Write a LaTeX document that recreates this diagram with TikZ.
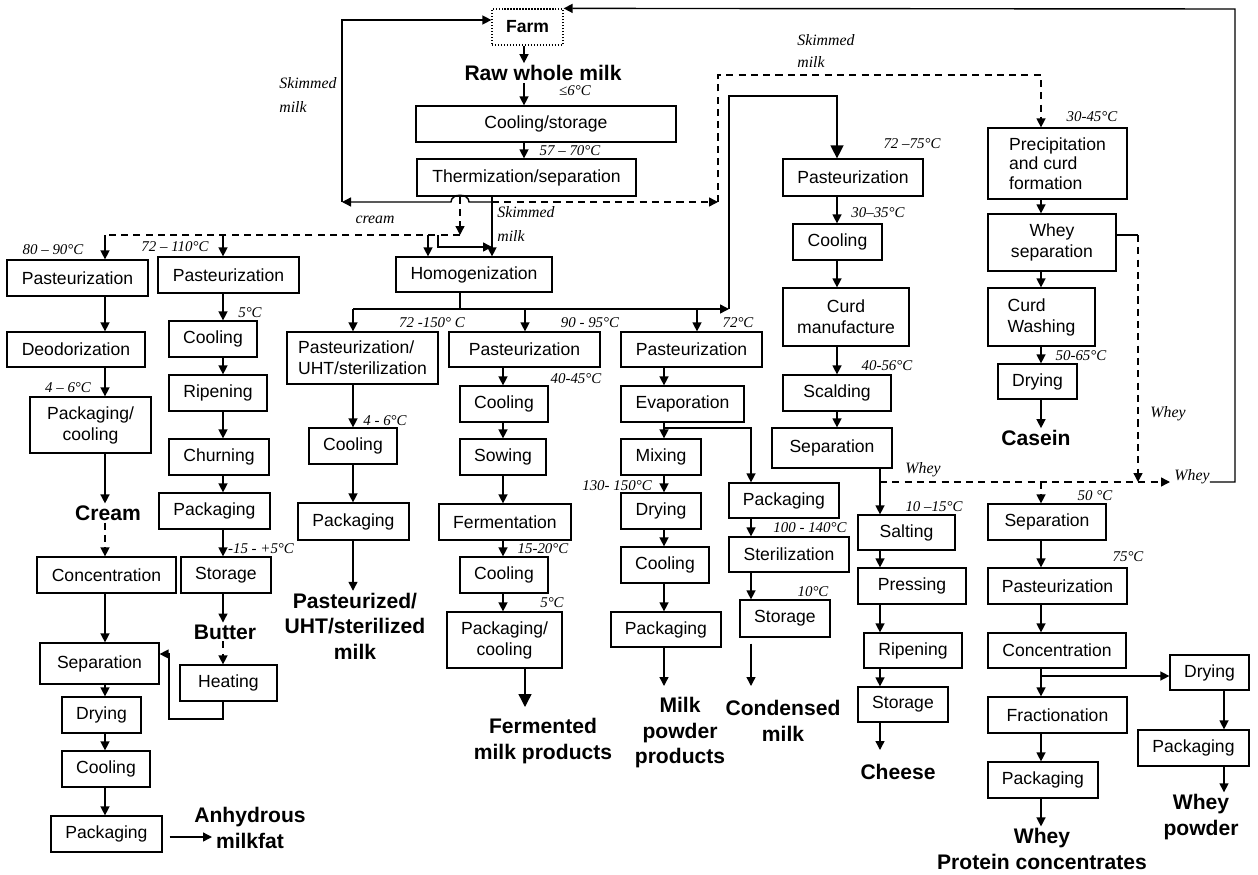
\documentclass[tikz,border=0pt]{standalone}
\usepackage{fontspec}
\setmainfont{Liberation Sans}
\newfontfamily\tmpfont{Liberation Serif}
\usetikzlibrary{arrows.meta}

\tikzset{
  box/.style={draw, line width=0.7pt, inner sep=0pt, minimum height=0.72cm,
    align=center, font=\fontsize{10}{12}\selectfont},
  bw/.style={minimum width=#1*0.02cm},
  bh/.style={minimum height=#1*0.02cm},
  arr/.style={line width=0.8pt, -{Triangle[length=1.8mm,width=1.8mm]}},
  bigarr/.style={line width=0.8pt, -{Triangle[length=2.6mm,width=2.6mm]}},
  dsh/.style={dash pattern=on 4pt off 3pt},
  temp/.style={font=\tmpfont\itshape\fontsize{8.5}{10}\selectfont, inner sep=0pt},
  skim/.style={font=\tmpfont\itshape\fontsize{9}{13.5}\selectfont, inner sep=0pt, align=left},
  prod/.style={font=\bfseries\fontsize{12}{14.5}\selectfont, inner sep=1pt, align=center},
}

\begin{document}
\begin{tikzpicture}[x=0.02cm, y=-0.02cm]
  \useasboundingbox (0,0) rectangle (1258,875);

  % column lines
  \coordinate (c1) at (105,0);
  \coordinate (c2) at (223,0);
  \coordinate (c3) at (353,0);
  \coordinate (cH) at (428,0);
  \coordinate (cS) at (492,0);
  \coordinate (cF) at (524,0);
  \coordinate (c4) at (525,0);
  \coordinate (c4b) at (503,0);
  \coordinate (c5) at (697,0);
  \coordinate (c5b) at (664,0);
  \coordinate (c6) at (751,0);
  \coordinate (c7) at (837,0);
  \coordinate (c7b) at (880,0);
  \coordinate (c8) at (1041,0);
  \coordinate (c9) at (1224,0);

  % farm and raw milk
  \node[box, bw=71, densely dotted, font=\bfseries\fontsize{10}{12}\selectfont] (farm) at (527.5,27) {Farm};
  \node[prod] (raw) at (543,73) {Raw whole milk};
  \node[box, bw=260] (coolst) at (546,124) {Cooling/storage};
  \node[box, bw=219, bh=37] (therm) at (526.5,177.5) {Thermization/separation};
  \node[box, bw=156, bh=35] (homog) at (474,274.5) {Homogenization};

  % cream
  \node[box, bw=141] (past1) at (77.5,278) {Pasteurization};
  \node[box, bw=138, bh=35] (deod) at (76,349.5) {Deodorization};
  \node[box, bw=121, bh=56] (pack1) at (90.5,425) {Packaging/\\cooling};
  \node[prod] (cream) at (108,513) {Cream};
  \node[box, bw=139] (conc1) at (106.5,575) {Concentration};
  \node[box, bw=119, bh=41] (sep1) at (99.5,663.5) {Separation};
  \node[box, bw=79] (dry1) at (101.5,715) {Drying};
  \node[box, bw=88] (cool1) at (106,769) {Cooling};
  \node[box, bw=111] (pack1b) at (106.5,834) {Packaging};
  \node[prod] (anhyd) at (250,828) {Anhydrous\\milkfat};

  % butter
  \node[box, bw=141] (past2) at (228.5,275) {Pasteurization};
  \node[box, bw=88] (cool2) at (213,339) {Cooling};
  \node[box, bw=98] (ripen2) at (218,393) {Ripening};
  \node[box, bw=100] (churn) at (219,457) {Churning};
  \node[box, bw=111] (pack2) at (214.5,511) {Packaging};
  \node[box, bw=90] (stor2) at (226,575) {Storage};
  \node[prod] (butter) at (225,632) {Butter};
  \node[box, bw=97] (heat) at (228.5,683) {Heating};

  % market milk
  \node[box, bw=151, bh=52, align=left] (pasuht) at (362.5,358) {Pasteurization/\\UHT/sterilization};
  \node[box, bw=88] (cool3) at (353,446) {Cooling};
  \node[box, bw=111, bh=37] (pack3) at (353.5,521.5) {Packaging};
  \node[prod] (pumilk) at (355,626) {Pasteurized/\\UHT/sterilized\\milk};

  % fermented products
  \node[box, bw=151, bh=35] (past4) at (524.5,349.5) {Pasteurization};
  \node[box, bw=88] (cool4) at (504,404) {Cooling};
  \node[box, bw=86] (sow) at (503,457) {Sowing};
  \node[box, bw=132] (ferm) at (505,522) {Fermentation};
  \node[box, bw=88] (cool4b) at (504,575) {Cooling};
  \node[box, bw=115, bh=56] (pack4) at (504.5,640) {Packaging/\\cooling};
  \node[prod] (fermp) at (543,741) {Fermented\\milk products};

  % milk powder
  \node[box, bw=141, bh=35] (past5) at (691.5,349.5) {Pasteurization};
  \node[box, bw=123] (evap) at (682.5,404) {Evaporation};
  \node[box, bw=80] (mix) at (661,457) {Mixing};
  \node[box, bw=80] (dry5) at (661,511) {Drying};
  \node[box, bw=88] (cool5) at (665,565) {Cooling};
  \node[box, bw=110, bh=35] (pack5) at (666,629.5) {Packaging};
  \node[prod] (powder) at (680,733) {Milk\\powder\\products};

  % condensed milk
  \node[box, bw=110, bh=35] (pack6) at (784,500.5) {Packaging};
  \node[box, bw=120, bh=35] (steril) at (789,554.5) {Sterilization};
  \node[box, bw=90, bh=37] (stor6) at (785,618.5) {Storage};
  \node[prod] (condm) at (783,721) {Condensed\\milk};

  % cheese
  \node[box, bw=140, bh=37] (past7) at (853,177.5) {Pasteurization};
  \node[box, bw=89] (cool7) at (837.5,242) {Cooling};
  \node[box, bw=126, bh=58] (curd) at (846,317) {Curd\\manufacture};
  \node[box, bw=108] (scald) at (837,393) {Scalding};
  \node[box, bw=120, bh=40] (sep7) at (832,448) {Separation};
  \node[box, bw=97, bh=35] (salt) at (906.5,532.5) {Salting};
  \node[box, bw=108] (press) at (912,586) {Pressing};
  \node[box, bw=98, bh=35] (ripen7) at (913,650.5) {Ripening};
  \node[box, bw=90, bh=35] (stor7) at (903,704.5) {Storage};
  \node[prod] (cheese) at (898,772) {Cheese};

  % casein
  \node[box, bw=139, bh=71, align=left, font=\fontsize{10}{11}\selectfont] (prec) at (1057.5,163.5) {Precipitation\\and curd\\formation};
  \node[box, bw=128, bh=57] (wsep) at (1052,242.5) {Whey\\separation};
  \node[box, bw=107, bh=58, align=left] (cwash) at (1041.5,317) {Curd\\Washing};
  \node[box, bw=79, bh=35] (dry8) at (1037.5,381.5) {Drying};
  \node[prod] (casein) at (1036,438) {Casein};

  % whey
  \node[box, bw=118] (sep9) at (1047,522) {Separation};
  \node[box, bw=139] (past9) at (1057.5,586) {Pasteurization};
  \node[box, bw=138, bh=35] (conc9) at (1057,650.5) {Concentration};
  \node[box, bw=139] (frac) at (1057.5,715) {Fractionation};
  \node[box, bw=110] (pack9) at (1043,780) {Packaging};
  \node[prod] (wpc) at (1042,849) {Whey\\Protein concentrates};
  \node[box, bw=79, bh=35] (dry9) at (1209.5,672.5) {Drying};
  \node[box, bw=111] (pack9b) at (1193.5,748) {Packaging};
  \node[prod] (wpow) at (1201,817) {Whey\\powder};

  % temperatures
  \node[temp] (t1) at (575,91) {≤6°C};
  \node[temp] (t2) at (570,151) {57 – 70°C};
  \node[temp] (t3) at (53,250) {80 – 90°C};
  \node[temp] (t4) at (175,247) {72 – 110°C};
  \node[temp] (t5) at (250,313) {5°C};
  \node[temp] (t6) at (68,388) {4 – 6°C};
  \node[temp] (t7) at (261,549) {-15 - +5°C};
  \node[temp] (t8) at (432,323) {72 -150° C};
  \node[temp] (t9) at (590,323) {90 - 95°C};
  \node[temp] (t10) at (738,323) {72°C};
  \node[temp] (t11) at (385,421) {4 - 6°C};
  \node[temp] (t12) at (576,379) {40-45°C};
  \node[temp] (t13) at (543,549) {15-20°C};
  \node[temp] (t14) at (552,603) {5°C};
  \node[temp] (t15) at (617,486) {130- 150°C};
  \node[temp] (t16) at (810,528) {100 - 140°C};
  \node[temp] (t17) at (813,592) {10°C};
  \node[temp] (t18) at (912,144) {72 –75°C};
  \node[temp] (t19) at (878,213) {30–35°C};
  \node[temp] (t20) at (887,366) {40-56°C};
  \node[temp] (t21) at (934,507) {10 –15°C};
  \node[temp] (t22) at (1092,117) {30-45°C};
  \node[temp] (t23) at (1081,356) {50-65°C};
  \node[temp] (t24) at (1095,496) {50 °C};
  \node[temp] (t25) at (1128,557) {75°C};

  % stream labels
  \node[skim, anchor=west] (skimL) at (279,95) {Skimmed\\milk};
  \node[skim, anchor=west, font=\tmpfont\itshape\fontsize{9}{12.5}\selectfont] (skimR) at (797,51) {Skimmed\\milk};
  \node[skim, anchor=west, font=\tmpfont\itshape\fontsize{9}{14}\selectfont] (skimM) at (497,224) {Skimmed\\milk};
  \node[skim] (crlab) at (375,220) {cream};
  \node[skim] (whey1) at (923,470) {Whey};
  \node[skim] (whey2) at (1168,414) {Whey};
  \node[skim] (wlab) at (1192,477) {Whey};

  % main line
  \draw[arr] (farm.south -| cF) -- (raw.north -| cF);
  \draw[arr] (raw.south -| cF) -- (coolst.north -| cF);
  \draw[arr] (coolst.south -| cF) -- (therm.north -| cF);
  \draw[arr] (therm.south -| cS) -- (homog.north -| cS);

  % skimmed milk back to farm and to casein
  \coordinate (jS) at (492,202);
  \coordinate (hopR) at (469,202);
  \coordinate (hopL) at (451,202);
  \coordinate (skL) at (342,202);
  \coordinate (skT) at (342,20);
  \coordinate (skR) at (718,202);
  \coordinate (skRT) at (718,75);
  \draw[arr] (jS) -- (hopR) .. controls (469,193) and (451,193) .. (hopL) -- (skL);
  \draw[arr] (skL) -- (skT) -- (farm.west |- skT);
  \draw[arr, dsh] (jS) -- (skR);
  \draw[arr, dsh] (skR) -- (skRT) -- (skRT -| c8) -- (prec.north -| c8);

  % cream
  \coordinate (crJ) at (460,235);
  \coordinate (mx) at (438,247);
  \draw[arr, dsh] (therm.south -| crJ) -- (crJ);
  \draw[dsh, line width=0.8pt] (crJ) -- (crJ -| c1);
  \draw[arr] (crJ -| c1) -- (past1.north -| c1);
  \draw[arr] (crJ -| c2) -- (past2.north -| c2);
  \draw[arr] (crJ -| cH) -- (homog.north -| cH);
  \draw[arr] (crJ -| mx) -- (mx) -- (mx -| cS);

  % homogenized milk
  \coordinate (hb) at (460,309);
  \coordinate (hL) at (353,309);
  \coordinate (hR) at (729,309);
  \coordinate (hRT) at (729,96);
  \draw[line width=0.8pt] (homog.south -| hb) -- (hb);
  \draw[arr] (hL) -- (hR);
  \draw[arr] (hL) -- (pasuht.north -| hL);
  \draw[arr] (hb -| c4) -- (past4.north -| c4);
  \draw[arr] (hb -| c5) -- (past5.north -| c5);
  \draw[bigarr] (hR) -- (hRT) -- (hRT -| c7) -- (past7.north -| c7);

  % cream line
  \draw[arr] (past1.south -| c1) -- (deod.north -| c1);
  \draw[arr] (deod.south -| c1) -- (pack1.north -| c1);
  \draw[arr] (pack1.south -| c1) -- (cream.north -| c1);
  \draw[arr, dsh] (cream.south -| c1) -- (conc1.north -| c1);
  \draw[arr] (conc1.south -| c1) -- (sep1.north -| c1);
  \draw[arr] (sep1.south -| c1) -- (dry1.north -| c1);
  \draw[arr] (dry1.south -| c1) -- (cool1.north -| c1);
  \draw[arr] (cool1.south -| c1) -- (pack1b.north -| c1);
  \coordinate (am) at (212,837);
  \draw[arr] ([xshift=0.14cm]pack1b.east |- am) -- (am);

  % butter line
  \draw[arr] (past2.south -| c2) -- (cool2.north -| c2);
  \draw[arr] (cool2.south -| c2) -- (ripen2.north -| c2);
  \draw[arr] (ripen2.south -| c2) -- (churn.north -| c2);
  \draw[arr] (churn.south -| c2) -- (pack2.north -| c2);
  \draw[arr] (pack2.south -| c2) -- (stor2.north -| c2);
  \draw[arr] (stor2.south -| c2) -- (butter.north -| c2);
  \draw[arr, dsh] (butter.south -| c2) -- (heat.north -| c2);
  \coordinate (hl1) at (223,719);
  \coordinate (hl2) at (169,719);
  \coordinate (hl3) at (169,654);
  \draw[arr] (heat.south -| hl1) -- (hl1) -- (hl2) -- (hl3) -- (sep1.east |- hl3);

  % market milk line
  \draw[arr] (pasuht.south -| c3) -- (cool3.north -| c3);
  \draw[arr] (cool3.south -| c3) -- (pack3.north -| c3);
  \draw[arr] (pack3.south -| c3) -- (pumilk.north -| c3);

  % fermented line
  \draw[arr] (past4.south -| c4b) -- (cool4.north -| c4b);
  \draw[arr] (cool4.south -| c4b) -- (sow.north -| c4b);
  \draw[arr] (sow.south -| c4b) -- (ferm.north -| c4b);
  \draw[arr] (ferm.south -| c4b) -- (cool4b.north -| c4b);
  \draw[arr] (cool4b.south -| c4b) -- (pack4.north -| c4b);
  \coordinate (fe) at (525,707);
  \draw[bigarr] (pack4.south -| fe) -- (fe);

  % powder and condensed lines
  \coordinate (ej) at (664,428);
  \draw[arr] (past5.south -| c5b) -- (evap.north -| c5b);
  \draw[arr] (evap.south -| c5b) -- (mix.north -| c5b);
  \draw[arr] (ej) -- (ej -| c6) -- (pack6.north -| c6);
  \draw[arr] (mix.south -| c5b) -- (dry5.north -| c5b);
  \draw[arr] (dry5.south -| c5b) -- (cool5.north -| c5b);
  \draw[arr] (cool5.south -| c5b) -- (pack5.north -| c5b);
  \coordinate (pe) at (664,686);
  \draw[arr] (pack5.south -| pe) -- (pe);
  \draw[arr] (pack6.south -| c6) -- (steril.north -| c6);
  \draw[arr] (steril.south -| c6) -- (stor6.north -| c6);
  \coordinate (ce) at (751,686);
  \draw[arr] ([yshift=-0.12cm]stor6.south -| ce) -- (ce);

  % cheese line
  \draw[arr] (past7.south -| c7) -- (cool7.north -| c7);
  \draw[arr] (cool7.south -| c7) -- (curd.north -| c7);
  \draw[arr] (curd.south -| c7) -- (scald.north -| c7);
  \draw[arr] (scald.south -| c7) -- (sep7.north -| c7);
  \draw[arr] (sep7.south -| c7b) -- (salt.north -| c7b);
  \draw[arr] (salt.south -| c7b) -- (press.north -| c7b);
  \draw[arr] (press.south -| c7b) -- (ripen7.north -| c7b);
  \draw[arr] (ripen7.south -| c7b) -- (stor7.north -| c7b);
  \coordinate (che) at (880,750);
  \draw[arr] (stor7.south -| che) -- (che);

  % whey streams
  \coordinate (wJ) at (880,482);
  \coordinate (wR) at (1170,482);
  \coordinate (wv) at (1138,235);
  \coordinate (fr1) at (1235,482);
  \coordinate (fr2) at (1235,9);
  \draw[arr, dsh] (wJ) -- (wR);
  \draw[line width=0.8pt] (wsep.east |- wv) -- (wv);
  \draw[arr, dsh] (wv) -- (wv |- wJ);
  \draw[arr, dsh] (wJ -| c8) -- (sep9.north -| c8);
  \draw[arr] (wlab.east |- fr1) -- (fr1) -- (fr2) -- (farm.north east);

  % casein line
  \draw[arr] (prec.south -| c8) -- (wsep.north -| c8);
  \draw[arr] (wsep.south -| c8) -- (cwash.north -| c8);
  \draw[arr] (cwash.south -| c8) -- (dry8.north -| c8);
  \draw[arr] (dry8.south -| c8) -- (casein.north -| c8);

  % whey line
  \coordinate (cj) at (1041,676);
  \draw[arr] (sep9.south -| c8) -- (past9.north -| c8);
  \draw[arr] (past9.south -| c8) -- (conc9.north -| c8);
  \draw[arr] (conc9.south -| c8) -- (frac.north -| c8);
  \draw[arr] (cj) -- (dry9.west |- cj);
  \draw[arr] (frac.south -| c8) -- (pack9.north -| c8);
  \draw[arr] (pack9.south -| c8) -- (wpc.north -| c8);
  \draw[arr] (dry9.south -| c9) -- (pack9b.north -| c9);
  \draw[arr] (pack9b.south -| c9) -- (wpow.north -| c9);
\end{tikzpicture}
\end{document}
